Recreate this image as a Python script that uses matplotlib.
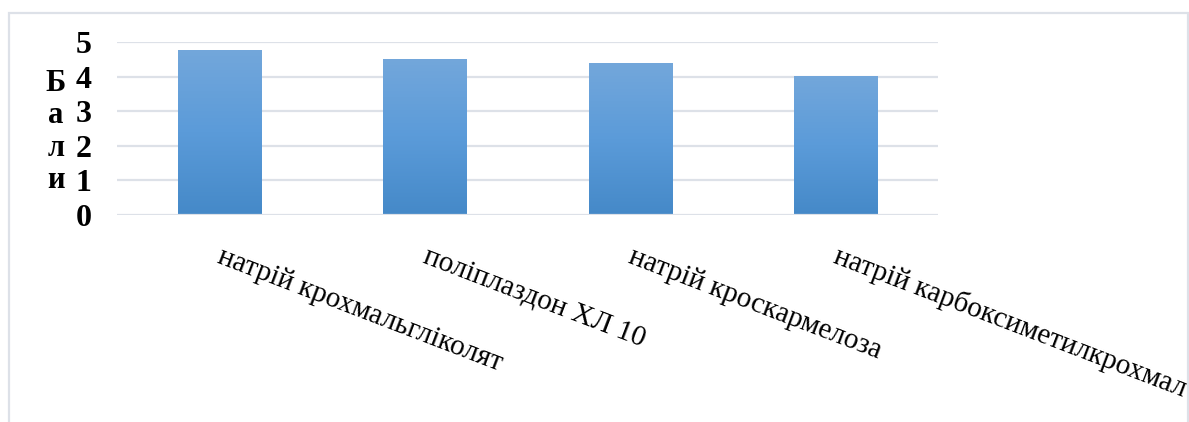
import matplotlib

matplotlib.use("Agg")
import matplotlib.pyplot as plt
import matplotlib.transforms as mtransforms
import numpy as np
from matplotlib.colors import LinearSegmentedColormap
from matplotlib.patches import Rectangle

# scores for each disintegrant
categories = [
    "натрій крохмальгліколят",
    "поліплаздон ХЛ 10",
    "натрій кроскармелоза",
    "натрій карбоксиметилкрохмал",
]
scores = [4.77, 4.51, 4.39, 4.02]
y_ticks = [0, 1, 2, 3, 4, 5]
y_label = "Бали"

SERIF = ["Liberation Serif", "DejaVu Serif"]
GRID = "#dde1e8"
bar_cmap = LinearSegmentedColormap.from_list(
    "bar", ["#4589c8", "#5b9bd9", "#73a7db"])


def main():
    fig = plt.figure(figsize=(11.89, 4.22), dpi=100)
    ax = fig.add_axes([117 / 1189, 207 / 422, 821 / 1189, 173 / 422])

    # outer chart frame (bottom edge runs off the page)
    fig.patches.append(Rectangle((9 / 1189, -0.05), 1179 / 1189, 1.05 - 13 / 422,
                                 transform=fig.transFigure, fill=False,
                                 edgecolor=GRID, lw=1.6))

    x = np.arange(len(categories))
    ax.set_xlim(-0.5, len(categories) - 0.5)
    ax.set_ylim(0, 5)

    bars = ax.bar(x, scores, 0.405, color="none", edgecolor="none", zorder=2)
    grad = np.linspace(0, 1, 256).reshape(-1, 1)
    for b in bars:
        x0, w, h = b.get_x(), b.get_width(), b.get_height()
        im = ax.imshow(grad, cmap=bar_cmap, origin="lower", aspect="auto",
                       extent=[x0, x0 + w, 0, h], zorder=2)
        im.set_clip_path(b)
    ax.set_xlim(-0.5, len(categories) - 0.5)
    ax.set_ylim(0, 5)

    for v in y_ticks:
        ax.axhline(v, color=GRID, lw=1.6, zorder=1 if v else 3)

    for s in ax.spines.values():
        s.set_visible(False)
    ax.tick_params(length=0)
    ax.set_yticks(y_ticks)
    ax.set_yticklabels([str(v) for v in y_ticks], family=SERIF,
                       fontweight="bold", fontsize=23)
    ax.tick_params(axis="y", pad=18.5)

    ax.set_xticks(x)
    ax.set_xticklabels(categories, family=SERIF, fontsize=21, rotation=-21,
                       ha="left", va="top", rotation_mode="anchor")
    ax.tick_params(axis="x", pad=20)
    shift = mtransforms.ScaledTranslation(4 / 100, 0, fig.dpi_scale_trans)
    for lbl in ax.get_xticklabels():
        lbl.set_transform(lbl.get_transform() + shift)

    fig.text(56 / 1189, 1 - 132 / 422, "\n".join(y_label), family=SERIF,
             fontweight="bold", fontsize=22, ha="center", va="center",
             multialignment="center", linespacing=1.16)

    fig.savefig("out.png", dpi=100)


if __name__ == "__main__":
    main()
